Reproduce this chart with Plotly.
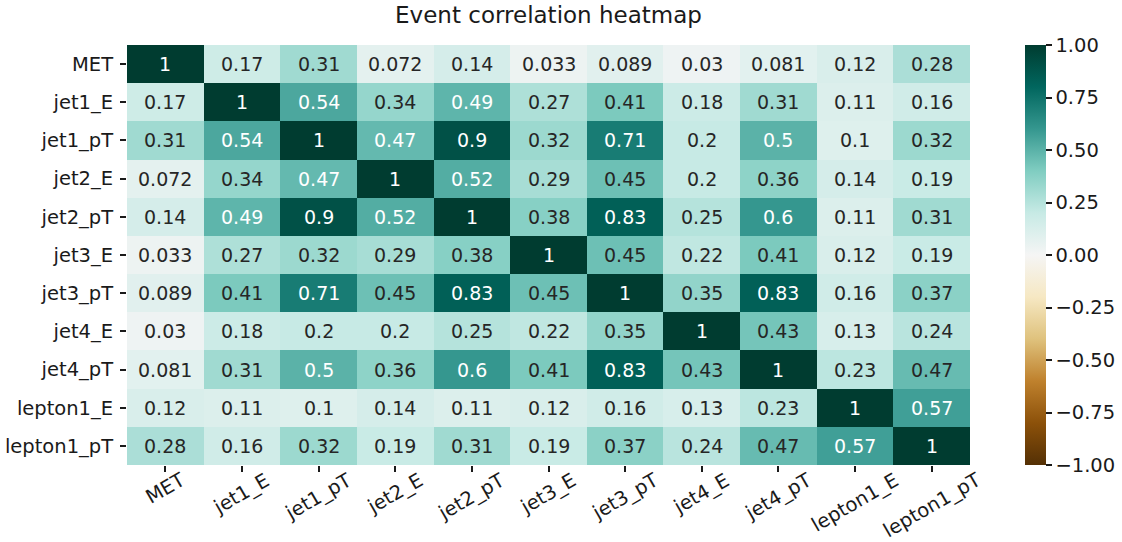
import plotly.graph_objects as go
from plotly.colors import diverging

# Variables of the event sample
labels = ["MET", "jet1_E", "jet1_pT", "jet2_E", "jet2_pT", "jet3_E",
          "jet3_pT", "jet4_E", "jet4_pT", "lepton1_E", "lepton1_pT"]

# Pearson correlation matrix, one row per variable
corr_met        = [1, 0.17, 0.31, 0.072, 0.14, 0.033, 0.089, 0.03, 0.081, 0.12, 0.28]
corr_jet1_e     = [0.17, 1, 0.54, 0.34, 0.49, 0.27, 0.41, 0.18, 0.31, 0.11, 0.16]
corr_jet1_pt    = [0.31, 0.54, 1, 0.474, 0.9, 0.32, 0.71, 0.2, 0.5, 0.1, 0.32]
corr_jet2_e     = [0.072, 0.34, 0.474, 1, 0.52, 0.29, 0.45, 0.2, 0.36, 0.14, 0.19]
corr_jet2_pt    = [0.14, 0.49, 0.9, 0.52, 1, 0.38, 0.83, 0.25, 0.6, 0.11, 0.31]
corr_jet3_e     = [0.033, 0.27, 0.32, 0.29, 0.38, 1, 0.45, 0.22, 0.41, 0.12, 0.19]
corr_jet3_pt    = [0.089, 0.41, 0.71, 0.45, 0.83, 0.45, 1, 0.35, 0.83, 0.16, 0.37]
corr_jet4_e     = [0.03, 0.18, 0.2, 0.2, 0.25, 0.22, 0.35, 1, 0.43, 0.13, 0.24]
corr_jet4_pt    = [0.081, 0.31, 0.5, 0.36, 0.6, 0.41, 0.83, 0.43, 1, 0.23, 0.466]
corr_lepton1_e  = [0.12, 0.11, 0.1, 0.14, 0.11, 0.12, 0.16, 0.13, 0.23, 1, 0.57]
corr_lepton1_pt = [0.28, 0.16, 0.32, 0.19, 0.31, 0.19, 0.37, 0.24, 0.466, 0.57, 1]

corr = [corr_met, corr_jet1_e, corr_jet1_pt, corr_jet2_e, corr_jet2_pt,
        corr_jet3_e, corr_jet3_pt, corr_jet4_e, corr_jet4_pt,
        corr_lepton1_e, corr_lepton1_pt]

cbar_ticks = [-1.0, -0.75, -0.5, -0.25, 0.0, 0.25, 0.5, 0.75, 1.0]

FONT = "DejaVu Sans"
INK = "#1a1a1a"

# Brown-blue-green diverging scale
scale_colors = diverging.BrBG
n_col = len(scale_colors)
colorscale = [[i / (n_col - 1), c] for i, c in enumerate(scale_colors)]


def parse_rgb(s):
    return [float(p) for p in s[s.index("(") + 1:s.index(")")].split(",")]


def cell_rgb(v, vmin=-1.0, vmax=1.0):
    pos = (v - vmin) / (vmax - vmin) * (n_col - 1)
    i = min(int(pos), n_col - 2)
    t = pos - i
    a, b = parse_rgb(scale_colors[i]), parse_rgb(scale_colors[i + 1])
    return [a[k] + (b[k] - a[k]) * t for k in range(3)]


def rel_luminance(rgb):
    lin = []
    for c in rgb:
        c = c / 255.0
        lin.append(c / 12.92 if c <= 0.03928 else ((c + 0.055) / 1.055) ** 2.4)
    return 0.2126 * lin[0] + 0.7152 * lin[1] + 0.0722 * lin[2]


fig = go.Figure(
    go.Heatmap(
        z=corr,
        x=labels,
        y=labels,
        colorscale=colorscale,
        zmin=-1,
        zmax=1,
        hoverinfo="skip",
        colorbar=dict(
            x=1.0652,
            xanchor="left",
            xpad=0,
            y=0.5,
            yanchor="middle",
            ypad=0,
            len=420,
            lenmode="pixels",
            thickness=21,
            thicknessmode="pixels",
            outlinewidth=0,
            ticks="outside",
            ticklen=6,
            tickwidth=1.5,
            tickcolor=INK,
            tickvals=cbar_ticks,
            tickformat=".2f",
            tickfont=dict(family=FONT, size=19.5, color=INK),
        ),
    )
)

annotations = []
# Cell values, light text on dark cells
for i, row in enumerate(corr):
    for j, v in enumerate(row):
        color = "white" if rel_luminance(cell_rgb(v)) < 0.408 else "#262626"
        annotations.append(dict(
            x=labels[j], y=labels[i], xref="x", yref="y",
            text=format(v, ".2g"), showarrow=False,
            font=dict(family=FONT, size=19, color=color),
        ))

# Rotated column labels centred under their ticks
for lab in labels:
    annotations.append(dict(
        x=lab, y=0, xref="x", yref="paper",
        text=lab, showarrow=False, textangle=-30,
        xanchor="center", yanchor="top", yshift=-1,
        font=dict(family=FONT, size=19.5, color=INK),
    ))

n = len(labels)
fig.update_layout(
    width=1122,
    height=542,
    margin=dict(l=127, r=152, t=45, b=77, autoexpand=False),
    paper_bgcolor="white",
    plot_bgcolor="white",
    title=dict(
        text="Event correlation heatmap",
        x=0.5, xref="paper", xanchor="center",
        y=1 - 15 / 542, yref="container", yanchor="middle",
        font=dict(family=FONT, size=23, color=INK),
    ),
    xaxis=dict(
        range=[-0.5, n - 0.5], autorange=False,
        showticklabels=False, ticks="outside", ticklen=6, tickwidth=1.5,
        tickcolor=INK, showgrid=False, zeroline=False, showline=False,
        automargin=False,
    ),
    yaxis=dict(
        range=[n - 0.5, -0.5], autorange=False,
        ticks="outside", ticklen=6, tickwidth=1.5,
        tickcolor=INK, showgrid=False, zeroline=False, showline=False,
        tickfont=dict(family=FONT, size=19.5, color=INK),
        ticklabelstandoff=3, automargin=False,
    ),
    annotations=annotations,
)

fig.write_html("out.html")
